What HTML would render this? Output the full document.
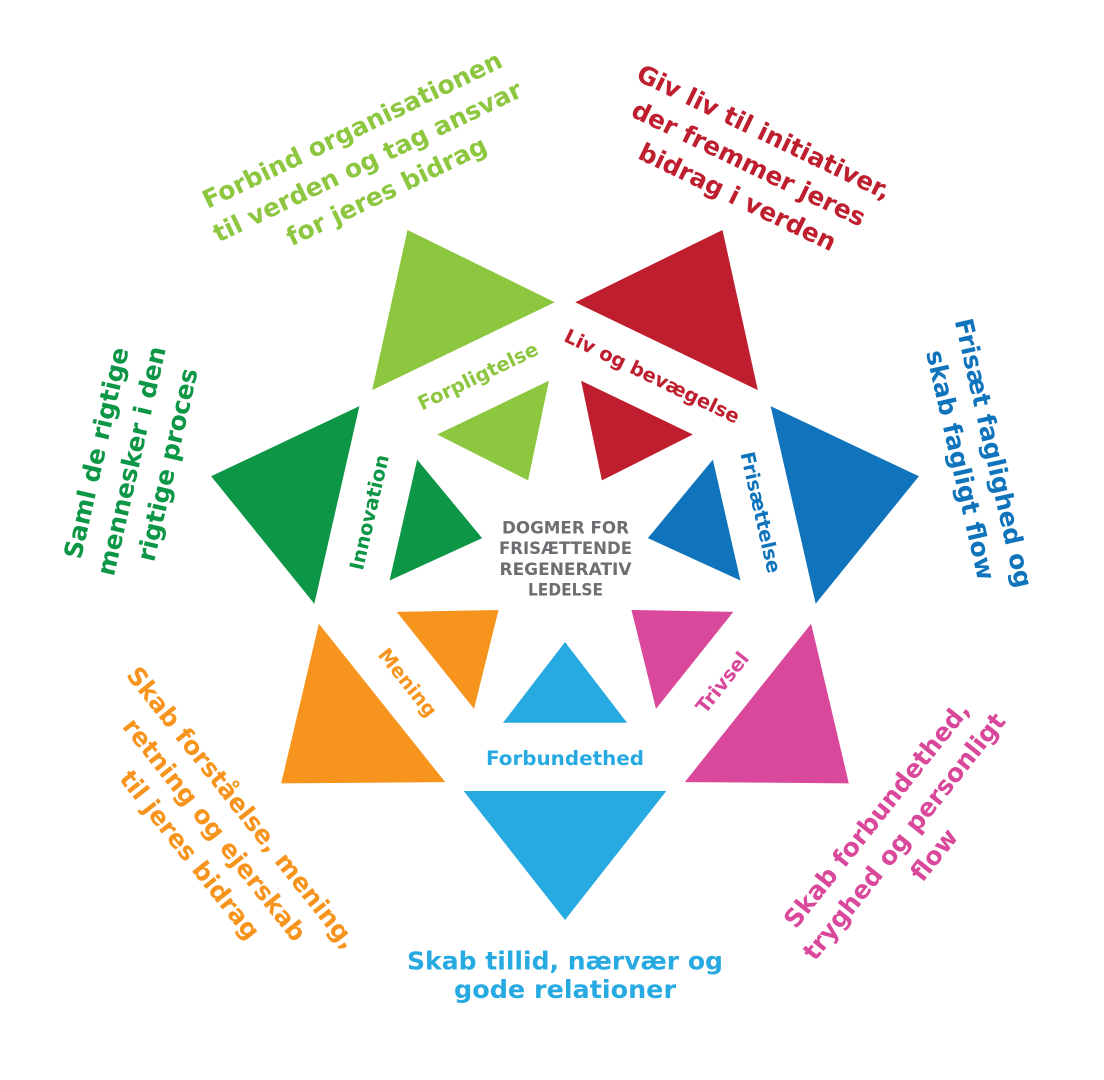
<!DOCTYPE html>
<html>
<head>
<meta charset="utf-8">
<style>
  html, body { margin: 0; padding: 0; background: #ffffff; }
  body { width: 1104px; height: 1080px; overflow: hidden; }
  svg { display: block; }
  text { font-family: "DejaVu Sans", "Liberation Sans", sans-serif; font-weight: bold; }
</style>
</head>
<body>
<svg width="1104" height="1080" viewBox="0 0 1104 1080" xmlns="http://www.w3.org/2000/svg">
  <rect width="1104" height="1080" fill="#ffffff"/>

  <!-- Outer triangles (apex outward) -->
  <g transform="translate(565,557)">
    <polygon points="0,-363 101.3,-234 -101.3,-234" fill="#8dc63f" transform="rotate(-25.714)"/>
    <polygon points="0,-363 101.3,-234 -101.3,-234" fill="#be1e2d" transform="rotate(25.714)"/>
    <polygon points="0,-363 101.3,-234 -101.3,-234" fill="#1074bc" transform="rotate(77.143)"/>
    <polygon points="0,-363 101.3,-234 -101.3,-234" fill="#d9489a" transform="rotate(128.571)"/>
    <polygon points="0,-363 101.3,-234 -101.3,-234" fill="#27aae1" transform="rotate(180)"/>
    <polygon points="0,-363 101.3,-234 -101.3,-234" fill="#f7941d" transform="rotate(231.429)"/>
    <polygon points="0,-363 101.3,-234 -101.3,-234" fill="#0d9646" transform="rotate(282.857)"/>

    <!-- Inner triangles (apex inward) -->
    <polygon points="0,-85 62,-165.8 -62,-165.8" fill="#8dc63f" transform="rotate(-25.714)"/>
    <polygon points="0,-85 62,-165.8 -62,-165.8" fill="#be1e2d" transform="rotate(25.714)"/>
    <polygon points="0,-85 62,-165.8 -62,-165.8" fill="#1074bc" transform="rotate(77.143)"/>
    <polygon points="0,-85 62,-165.8 -62,-165.8" fill="#d9489a" transform="rotate(128.571)"/>
    <polygon points="0,-85 62,-165.8 -62,-165.8" fill="#27aae1" transform="rotate(180)"/>
    <polygon points="0,-85 62,-165.8 -62,-165.8" fill="#f7941d" transform="rotate(231.429)"/>
    <polygon points="0,-85 62,-165.8 -62,-165.8" fill="#0d9646" transform="rotate(282.857)"/>

    <!-- Inner labels: tops outward -->
    <g transform="rotate(-25.714) translate(0,-201)">
      <text x="0" y="7" text-anchor="middle" font-size="19.5" fill="#8dc63f">Forpligtelse</text>
    </g>
    <g transform="rotate(25.714) translate(0,-201)">
      <text x="0" y="7" text-anchor="middle" font-size="19.5" fill="#be1e2d">Liv og bevægelse</text>
    </g>
    <g transform="rotate(77.143) translate(0,-201)">
      <text x="0" y="7" text-anchor="middle" font-size="19.5" fill="#1074bc">Frisættelse</text>
    </g>
    <g transform="rotate(282.857) translate(0,-201)">
      <text x="0" y="7" text-anchor="middle" font-size="19.5" fill="#0d9646">Innovation</text>
    </g>
    <!-- Inner labels: tops inward -->
    <g transform="rotate(128.571) translate(0,-201) rotate(180)">
      <text x="0" y="7" text-anchor="middle" font-size="19.5" fill="#d9489a">Trivsel</text>
    </g>
    <g transform="rotate(180) translate(0,-201) rotate(180)">
      <text x="0" y="7" text-anchor="middle" font-size="19.5" fill="#27aae1" textLength="158" lengthAdjust="spacingAndGlyphs">Forbundethed</text>
    </g>
    <g transform="rotate(231.429) translate(0,-201) rotate(180)">
      <text x="0" y="7" text-anchor="middle" font-size="19.5" fill="#f7941d">Mening</text>
    </g>
  </g>

  <!-- Center title -->
  <g fill="#6d6e71" font-size="17" text-anchor="middle">
    <text x="565.5" y="533.5" textLength="127" lengthAdjust="spacingAndGlyphs">DOGMER FOR</text>
    <text x="565.5" y="554.2" textLength="133" lengthAdjust="spacingAndGlyphs">FRISÆTTENDE</text>
    <text x="565.5" y="574.9" textLength="132" lengthAdjust="spacingAndGlyphs">REGENERATIV</text>
    <text x="565.5" y="595.4" textLength="75" lengthAdjust="spacingAndGlyphs">LEDELSE</text>
  </g>

  <!-- Outer statements -->
  <text transform="translate(372,161) rotate(-25.714)" text-anchor="middle" font-size="25" fill="#8dc63f">
    <tspan x="0" y="-28">Forbind organisationen</tspan>
    <tspan x="0" y="7">til verden og tag ansvar</tspan>
    <tspan x="0" y="42">for jeres bidrag</tspan>
  </text>

  <text transform="translate(752,167) rotate(25.714)" text-anchor="middle" font-size="25" fill="#be1e2d">
    <tspan x="0" y="-28">Giv liv til initiativer,</tspan>
    <tspan x="0" y="7">der fremmer jeres</tspan>
    <tspan x="0" y="42">bidrag i verden</tspan>
  </text>

  <text transform="translate(976,461.5) rotate(77.143)" text-anchor="middle" font-size="25" fill="#1074bc">
    <tspan x="0" y="-10.5">Frisæt faglighed og</tspan>
    <tspan x="0" y="24.5">skab fagligt flow</tspan>
  </text>

  <text transform="translate(908,834) rotate(-51.429)" text-anchor="middle" font-size="25" fill="#d9489a">
    <tspan x="0" y="-28">Skab forbundethed,</tspan>
    <tspan x="0" y="7">tryghed og personligt</tspan>
    <tspan x="0" y="42">flow</tspan>
  </text>

  <g text-anchor="middle" font-size="25" fill="#27aae1">
    <text x="565" y="969.5" textLength="316" lengthAdjust="spacingAndGlyphs">Skab tillid, nærvær og</text>
    <text x="565" y="997.8" textLength="222" lengthAdjust="spacingAndGlyphs">gode relationer</text>
  </g>

  <text transform="translate(216,834) rotate(51.429)" text-anchor="middle" font-size="25" fill="#f7941d">
    <tspan x="0" y="-28">Skab forståelse, mening,</tspan>
    <tspan x="0" y="7">retning og ejerskab</tspan>
    <tspan x="0" y="42">til jeres bidrag</tspan>
  </text>

  <text transform="translate(134,457) rotate(-77.143)" text-anchor="middle" font-size="25" fill="#0d9646">
    <tspan x="0" y="-29">Saml de rigtige</tspan>
    <tspan x="0" y="7">mennesker i den</tspan>
    <tspan x="0" y="43">rigtige proces</tspan>
  </text>
</svg>
</body>
</html>
